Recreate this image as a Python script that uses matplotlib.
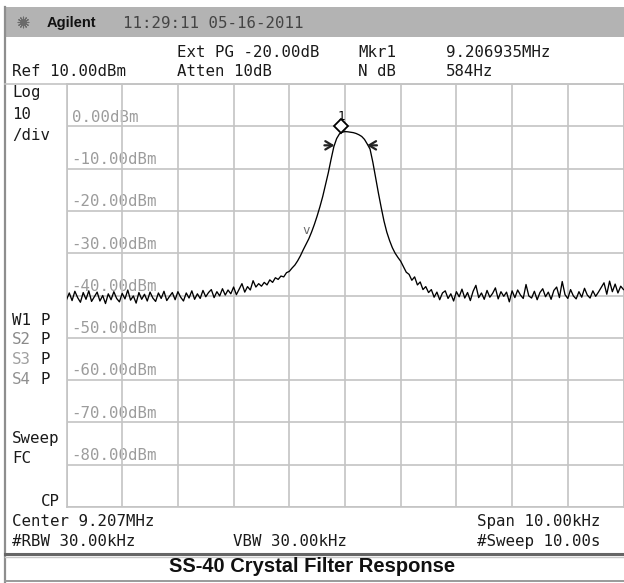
import numpy as np
import matplotlib.pyplot as plt
from matplotlib.patches import Rectangle

# analyzer settings
center_mhz = 9.207
span_khz = 10.0
ref_dbm = 10.0
db_per_div = 10.0
marker_mhz = 9.206935
ndb_bw_khz = 0.584

# swept trace, offset from center in kHz
freq_khz = np.linspace(-span_khz / 2, span_khz / 2, 201)
trace_dbm = [
    -41.0, -39.4, -41.2, -39.0, -40.5, -41.6, -39.3, -40.9, -38.9, -41.4,
    -40.3, -39.2, -41.3, -40.0, -41.9, -39.6, -41.0, -39.1, -40.7, -41.5,
    -39.5, -40.8, -38.7, -41.1, -40.1, -41.8, -39.3, -40.9, -39.7, -41.3,
    -39.2, -40.6, -41.4, -39.4, -40.7, -39.0, -41.2, -40.2, -39.3, -41.0,
    -39.1, -40.4, -41.3, -39.4, -40.6, -38.9, -40.9, -39.6, -40.7, -38.8,
    -40.3, -39.3, -38.6, -40.5, -39.1, -40.1, -38.4, -39.9, -38.7, -39.6,
    -38.0, -39.8, -38.5, -37.2, -39.2, -37.9, -38.7,
    -36.5, -38.0, -37.2, -37.8, -36.9, -37.5, -36.3, -36.9, -35.8, -36.2,
    -35.4, -35.6, -34.6, -34.3, -33.5, -32.8, -31.8, -30.6, -29.2, -27.9,
    -26.6, -25.0, -23.2, -21.2, -19.0, -16.6, -13.8, -11.0, -7.8, -4.8,
    -2.9, -1.8, -1.4, -1.25, -1.3, -1.4, -1.5, -1.7, -2.0, -2.4,
    -3.1, -4.2, -5.4, -8.5, -12.2, -15.8, -19.2, -22.4, -25.0, -27.0,
    -28.7, -30.0, -31.0, -31.9, -33.2, -34.5, -35.0, -36.4, -35.6, -37.5,
    -36.8, -38.6, -37.9, -39.3,
    -38.6, -40.4, -39.2, -41.0, -39.4, -38.9, -40.7, -39.6, -41.3, -39.1,
    -40.3, -38.5, -40.6, -39.3, -41.2, -39.0, -37.6, -40.5, -39.4, -40.9,
    -38.8, -40.4, -39.5, -38.2, -40.8, -39.1, -40.2, -39.2, -41.5, -38.9,
    -40.5, -38.7, -39.9, -40.7, -37.4, -40.1, -40.6, -39.0, -41.0, -39.3,
    -38.4, -40.3, -39.2, -40.9, -38.8, -38.0, -40.5, -36.7, -39.8, -40.7,
    -38.6, -40.1, -40.8, -39.1, -40.4, -38.3, -39.9, -40.6, -38.9, -40.2,
    -39.2, -38.1, -37.0, -39.7, -36.6, -39.1, -37.3, -39.4, -37.8, -38.6,
]
ndb_level = -4.5
ndb_left_khz = -0.19

W, H = 624, 583
MONO = 'DejaVu Sans Mono'
FS = 11.3

fig = plt.figure(figsize=(W / 100, H / 100), dpi=100)

# background layer in pixel coordinates
bg = fig.add_axes([0, 0, 1, 1])
bg.set_xlim(0, W)
bg.set_ylim(H, 0)
bg.axis('off')

bg.add_patch(Rectangle((5, 7), W - 5, 30, color='#b3b3b3', lw=0))
bg.plot([5, 5], [7, H], color='#8e8e8e', lw=1.6)
bg.plot([5, W], [84, 84], color='#c4c4c4', lw=1.2)
bg.plot([5, W], [554, 554], color='#666666', lw=2.2)
bg.plot([5, W], [556.5, 556.5], color='#c8c8c8', lw=1.0)
bg.plot([5, W], [581, 581], color='#9a9a9a', lw=1.4)

# logo + header
bg.scatter([22.5], [22], marker=(12, 2, 0), s=60, color='#6a6a6a', lw=0.8)
bg.text(47, 27.5, 'Agilent', family='Liberation Sans', weight='bold',
        fontsize=10.5, va='baseline', color='#111111')
bg.text(123, 27.5, '11:29:11 05-16-2011', family=MONO, fontsize=FS,
        va='baseline', color='#444444')


def txt(x, y, s, color='#1a1a1a', ha='left'):
    bg.text(x, y, s, family=MONO, fontsize=FS, va='baseline', ha=ha, color=color)


txt(177, 57, 'Ext PG -20.00dB')
txt(358, 57, 'Mkr1')
txt(446, 57, f'{marker_mhz:.6f}MHz')
txt(12, 76.5, f'Ref {ref_dbm:.2f}dBm')
txt(177, 76.5, 'Atten 10dB')
txt(358, 76.5, 'N dB')
txt(446, 76.5, f'{ndb_bw_khz * 1000:.0f}Hz')

txt(12, 97, 'Log')
txt(12, 119, f'{db_per_div:.0f}')
txt(12, 140, '/div')

txt(12, 325, 'W1')
txt(41, 325, 'P')
for label, y, c in [('S2', 344, '#8a8a8a'), ('S3', 364, '#a0a0a0'), ('S4', 384, '#909090')]:
    txt(12, y, label, color=c)
    txt(41, y, 'P')
txt(12, 443, 'Sweep')
txt(12, 463, 'FC')
txt(60, 506, 'CP', ha='right')

txt(12, 526, f'Center {center_mhz:.3f}MHz')
txt(12, 546, '#RBW 30.00kHz')
txt(233, 546, 'VBW 30.00kHz')
txt(477, 526, f'Span {span_khz:.2f}kHz')
txt(477, 546, '#Sweep 10.00s')

bg.text(W / 2, 572, 'SS-40 Crystal Filter Response', family='Liberation Sans',
        weight='bold', fontsize=14.5, ha='center', va='baseline', color='#111111')

# graticule
x0, x1, y0, y1 = 66.5, 623.5, 84, 507
ax = fig.add_axes([x0 / W, 1 - y1 / H, (x1 - x0) / W, (y1 - y0) / H])
ax.set_facecolor('none')
ax.set_xlim(-span_khz / 2, span_khz / 2)
ax.set_ylim(ref_dbm - 10 * db_per_div, ref_dbm)
ax.set_xticks(np.arange(-5, 5.01, 1))
ax.set_yticks(np.arange(-90, 10.01, 10))
ax.grid(True, color='#c4c4c4', lw=1.2)
ax.tick_params(length=0, labelleft=False, labelbottom=False)
for side in ['top', 'right', 'bottom', 'left']:
    ax.spines[side].set_color('#c4c4c4')
    ax.spines[side].set_linewidth(1.2)

levels = np.arange(0, -81, -10)
for lv in levels:
    ax.text(-4.91, lv + 1.1, f'{lv:.2f}dBm', family=MONO, fontsize=FS,
            color='#9c9c9c', va='baseline', zorder=1)

ax.plot(freq_khz, trace_dbm, color='black', lw=0.95, zorder=3)

# marker 1
mk_khz = (marker_mhz - center_mhz) * 1000
mk_dbm = np.interp(mk_khz, freq_khz, trace_dbm)
ax.plot([mk_khz], [mk_dbm + 1.7], marker='D', ms=7, mfc='white', mec='black',
        mew=1.3, zorder=4)
ax.text(mk_khz, mk_dbm + 3.9, '1', family=MONO, fontsize=9, ha='center',
        va='center', zorder=4)

# N dB bandwidth arrows
ndb_right_khz = ndb_left_khz + ndb_bw_khz
arrow = dict(arrowstyle='->,head_length=0.5,head_width=0.3', lw=1.6,
             color='#222222', shrinkA=0, shrinkB=0)
ax.annotate('', xy=(ndb_left_khz, ndb_level), xytext=(ndb_left_khz - 0.18, ndb_level),
            arrowprops=arrow, zorder=4)
ax.annotate('', xy=(ndb_right_khz, ndb_level), xytext=(ndb_right_khz + 0.18, ndb_level),
            arrowprops=arrow, zorder=4)

ax.text(-0.69, -24.6, 'v', family=MONO, fontsize=9, color='#6a6a6a',
        ha='center', va='center', zorder=4)

fig.savefig('out.png', dpi=100, facecolor='white')
